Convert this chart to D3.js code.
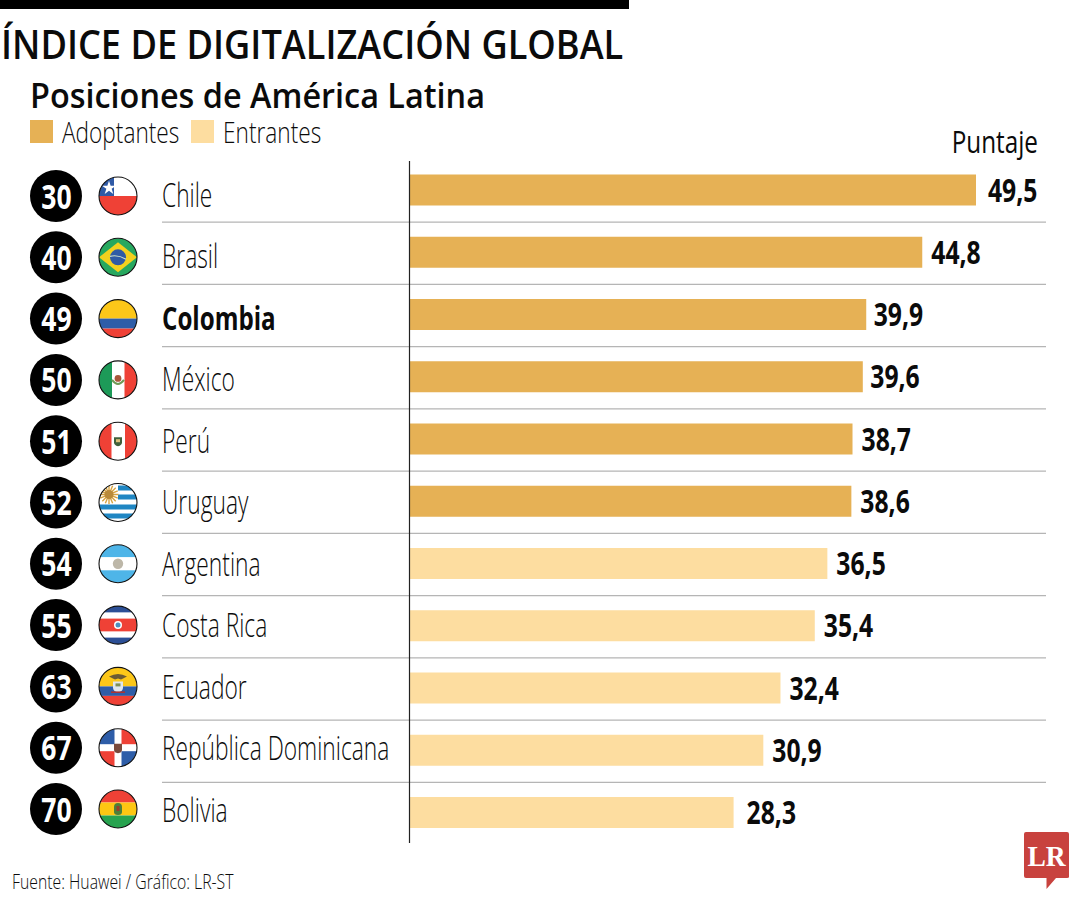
<!DOCTYPE html>
<html><head><meta charset="utf-8">
<script src="https://cdn.jsdelivr.net/npm/d3@7"></script>
<style>html,body{margin:0;padding:0;background:#fff}svg{display:block}text{font-family:"Open Sans",sans-serif;fill:#0b0b0b}</style>
</head><body><svg id="c" width="1080" height="900"></svg>
<script>
const countries=["Chile","Brasil","Colombia","México","Perú","Uruguay","Argentina","Costa Rica","Ecuador","República Dominicana","Bolivia"];
const ranks=[30,40,49,50,51,52,54,55,63,67,70];
const scores=[49.5,44.8,39.9,39.6,38.7,38.6,36.5,35.4,32.4,30.9,28.3];
const groups=["Adoptantes","Adoptantes","Adoptantes","Adoptantes","Adoptantes","Adoptantes","Entrantes","Entrantes","Entrantes","Entrantes","Entrantes"];
const legendGroups=["Adoptantes","Entrantes"];
const flagCodes=["cl","br","co","mx","pe","uy","ar","cr","ec","do","bo"];
const title="ÍNDICE DE DIGITALIZACIÓN GLOBAL",subtitle="Posiciones de América Latina",unitLabel="Puntaje",source="Fuente: Huawei / Gráfico: LR-ST";

const svg=d3.select("#c");
const x=d3.scaleLinear().domain([0,49.5]).range([410,976]);
const yBar=d3.scalePoint().domain(countries).range([190,812.5]);
const yRow=d3.scalePoint().domain(countries).range([196,809]);
const yLabel=d3.scalePoint().domain(countries).range([196,810.5]);
const color=d3.scaleOrdinal().domain(legendGroups).range(["#e6b155","#fddda0"]);
const fmt=v=>d3.format(".1f")(v).replace(".",",");
function txt(g,s,px,py,size,weight,sx,anchor){
  return g.append("text").text(s).attr("transform",`translate(${px},${py}) scale(${sx},1)`)
    .attr("font-size",size).attr("font-weight",weight).attr("text-anchor",anchor||"start");
}
svg.append("rect").attr("x",0).attr("y",0).attr("width",629).attr("height",9).attr("fill","#000");
txt(svg,title,1,59,40,600,0.905);
txt(svg,subtitle,30,108,34,600,0.953);
legendGroups.forEach((k,i)=>{
  const lx=[30,191][i];
  svg.append("rect").attr("x",lx).attr("y",120).attr("width",23).attr("height",23).attr("fill",color(k));
  txt(svg,k,lx+32,143,30,300,0.755);
});
txt(svg,unitLabel,1038,153,31,400,0.784,"end");

const ruleYs=countries.slice(0,-1).map(c=>yBar(c)+(yBar.step()/2)+1);
svg.append("g").selectAll("line").data(ruleYs).join("line")
  .attr("x1",162).attr("x2",1046).attr("y1",d=>d).attr("y2",d=>d)
  .attr("stroke","#b5b5b5").attr("stroke-width",1.3);
svg.append("g").selectAll("rect").data(countries).join("rect")
  .attr("x",x(0)).attr("y",c=>yBar(c)-15.5).attr("height",31)
  .attr("width",(c,i)=>x(scores[i])-x(0)).attr("fill",(c,i)=>color(groups[i]));
svg.append("line").attr("x1",409.5).attr("x2",409.5).attr("y1",161).attr("y2",843).attr("stroke","#222").attr("stroke-width",1.2);
countries.forEach((c,i)=>{
  txt(svg,fmt(scores[i]),x(scores[i])+(i==10?13:i==0?12:i==2||i==3?7.5:9),yBar(c)+11.5,32,700,0.772);
});
const defs=svg.append("defs");
countries.forEach((c,i)=>{
  const cy=yRow(c);
  svg.append("circle").attr("cx",56).attr("cy",cy).attr("r",26).attr("fill","#000");
  txt(svg,ranks[i],56.5,cy+12.5,34,700,0.78,"middle").style("fill","#fff");
  txt(svg,c,162,yLabel(c)+11,c=="Colombia"?32:33,c=="Colombia"?700:300,c=="Colombia"?0.755:0.69);
  defs.append("clipPath").attr("id","f"+i).append("circle").attr("cx",0).attr("cy",0).attr("r",19);
  const g=svg.append("g").attr("transform",`translate(118,${cy})`);
  const inner=g.append("g").attr("clip-path",`url(#f${i})`);
  flag(inner,flagCodes[i]);
  g.append("circle").attr("r",19).attr("fill","none").attr("stroke","#111").attr("stroke-width",1.1);
});
function R(g,a,b,w,h,f){g.append("rect").attr("x",a).attr("y",b).attr("width",w).attr("height",h).attr("fill",f)}
function C(g,r,f,a=0,b=0){g.append("circle").attr("cx",a).attr("cy",b).attr("r",r).attr("fill",f)}
function stripes(g,list){let y=-19;list.forEach(([h,f])=>{R(g,-19,y,38,h,f);y+=h})}
function flag(g,k){
  const red="#ef4136",blue="#2e5da8",white="#fff";
  if(k=="cl"){R(g,-19,-19,38,19,white);R(g,-19,0,38,19,red);R(g,-19,-19,15,19,"#2f5aa6");
    g.append("path").attr("d",d3.symbol(d3.symbolStar,60)()).attr("transform","translate(-9,-8)").attr("fill","#fff");}
  if(k=="br"){R(g,-19,-19,38,38,"#27a85f");g.append("path").attr("d","M-19 0L0-15L19 0L0 15Z").attr("fill","#f4d11e");C(g,8,"#2f5ba5");
    g.append("path").attr("d","M-8-1Q0-3 8 2").attr("stroke","#cfe0c8").attr("stroke-width",1.2).attr("fill","none");}
  if(k=="co"){stripes(g,[[19,"#fcc719"],[10,blue],[9,red]]);}
  if(k=="mx"){R(g,-19,-19,13,38,"#1d9a58");R(g,-6,-19,12.5,38,white);R(g,6.5,-19,13,38,red);C(g,3.4,"#a8563a",0,-1.5);
    g.append("path").attr("d","M-6 0Q0 8 6 0").attr("stroke","#6f9a55").attr("stroke-width",2).attr("fill","none");}
  if(k=="pe"){R(g,-19,-19,38,38,white);R(g,-19,-19,12.5,38,red);R(g,7,-19,12,38,red);
    g.append("path").attr("d","M-4-4H4V1Q4 4 0 5Q-4 4-4 1Z").attr("fill","#40603b");R(g,-2,-2,4,3,"#d9c27a");}
  if(k=="uy"){R(g,-19,-19,38,38,white);[-17,-8,2,11].forEach(v=>R(g,-19,v,38,5,"#1f86c3"));R(g,-19,-19,19,19,white);
    d3.range(16).forEach(i=>{const a=i*Math.PI/8;g.append("line").attr("x1",-9).attr("y1",-8).attr("x2",-9+9.5*Math.cos(a)).attr("y2",-8+9.5*Math.sin(a)).attr("stroke","#d7a33f").attr("stroke-width",1.4)});C(g,4.5,"#b98a3a",-9,-8);}
  if(k=="ar"){stripes(g,[[12.5,"#4eb5e8"],[13,white],[12.5,"#4eb5e8"]]);C(g,5.2,"#bdb7a8");}
  if(k=="cr"){stripes(g,[[6.5,"#2c4f96"],[6,white],[13,red],[6,white],[6.5,"#2c4f96"]]);C(g,4,"#fff");C(g,2.5,"#4a90c0");}
  if(k=="ec"){stripes(g,[[19,"#fcc719"],[9.5,blue],[9.5,red]]);
    g.append("path").attr("d","M-9-10Q0-15 9-10L3-7L0-8L-3-7Z").attr("fill","#6b5a34");
    g.append("path").attr("d","M-5-5H5V1Q5 5 0 6Q-5 5-5 1Z").attr("fill","#dfe6ee");R(g,-2.5,-3,5,3,"#7f8f55");R(g,-7,5,14,1.6,"#a33");}
  if(k=="do"){R(g,-19,-19,38,38,white);R(g,-19,-19,15.5,15.5,blue);R(g,3.5,-19,15.5,15.5,red);R(g,-19,3.5,15.5,15.5,red);R(g,3.5,3.5,15.5,15.5,blue);
    g.append("path").attr("d","M-4-4H4V2Q4 5 0 5.5Q-4 5-4 2Z").attr("fill","#7a4a3c");}
  if(k=="bo"){stripes(g,[[12.5,red],[13,"#fdc713"],[12.5,"#27a34f"]]);
    g.append("path").attr("d","M-4-2Q-4-6 0-6Q4-6 4-2V3Q4 6 0 6Q-4 6-4 3Z").attr("fill","#4c7f3a");R(g,-1.5,-3,3,5,"#9b3d2a");}
}
txt(svg,source,12,889,21,300,0.752);
svg.append("path").attr("d","M1024 834Q1024 832 1026 832L1067 832Q1069 832 1069 834L1069 877Q1069 878 1067 878L1056 878L1046.5 889L1046.5 878L1026 878Q1024 878 1024 876Z").attr("fill","#c8423e");
txt(svg,"LR",1046.5,866,29,700,0.95,"middle").style("fill","#fff").style("font-family","'Liberation Serif',serif");
</script></body></html>
